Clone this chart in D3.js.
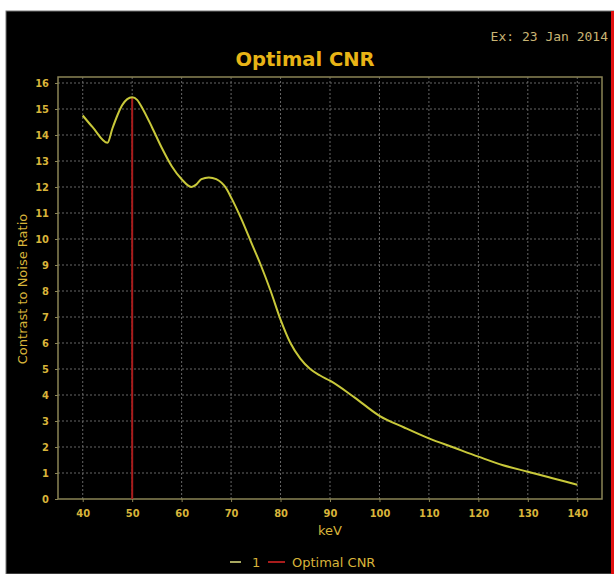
<!DOCTYPE html>
<html lang="en">
<head>
  <meta charset="UTF-8">
  <script src="https://d3js.org/d3.v7.min.js"></script>
  <title>Optimal CNR</title>
  <style>
    body { margin: 0; background: #fff; }
    svg { display: block; }
  </style>
</head>
<body>
  <svg id="svgWrapper" width="614" height="574"></svg>
  <script>
    // curve
    const kev = [40, 42, 45, 46, 47, 48, 49, 50, 51, 52, 54, 56, 58, 60, 62, 63, 64, 65.5, 67, 69, 70, 72, 74, 76, 78, 80, 82, 84, 86, 88, 90, 95, 100, 105, 110, 115, 120, 125, 130, 135, 140];
    const cnr = [14.75, 14.3, 13.7, 14.25, 14.75, 15.15, 15.38, 15.45, 15.35, 15.05, 14.3, 13.5, 12.8, 12.3, 12.0, 12.1, 12.3, 12.37, 12.3, 11.95, 11.6, 10.8, 9.9, 9.0, 8.0, 6.9, 6.0, 5.4, 5.0, 4.75, 4.55, 3.9, 3.2, 2.75, 2.33, 1.98, 1.63, 1.3, 1.05, 0.8, 0.55];
    const xTicks = [40, 50, 60, 70, 80, 90, 100, 110, 120, 130, 140];
    const yTicks = d3.range(0, 17);
    const optimalKev = 50;
    const optimalCnr = 15.45;

    const gold = '#d8b43a';
    const svgEl = d3.select('#svgWrapper');

    // black panel
    svgEl.append('rect')
      .attr('x', 6).attr('y', 11)
      .attr('width', 608).attr('height', 563)
      .attr('fill', '#000')
      .attr('stroke', '#777').attr('stroke-width', 1);
    svgEl.append('line')
      .attr('x1', 612.5).attr('x2', 612.5).attr('y1', 11).attr('y2', 574)
      .attr('stroke', '#e01010').attr('stroke-width', 3);

    const plotL = 58, plotR = 602, plotT = 77, plotB = 499;
    const x = d3.scaleLinear().domain([35, 145]).range([plotL, plotR]);
    const y = d3.scaleLinear().domain([0, 16]).range([plotB, 83]);

    // grid
    svgEl.append('g').selectAll('line')
      .data(xTicks).enter().append('line')
      .attr('x1', d => x(d)).attr('x2', d => x(d))
      .attr('y1', plotT).attr('y2', plotB)
      .attr('stroke', '#666').attr('stroke-dasharray', '2,2');
    svgEl.append('g').selectAll('line')
      .data(yTicks.slice(1)).enter().append('line')
      .attr('x1', plotL).attr('x2', plotR)
      .attr('y1', d => y(d)).attr('y2', d => y(d))
      .attr('stroke', '#666').attr('stroke-dasharray', '2,2');

    // axes
    const xAxis = svgEl.append('g')
      .attr('transform', `translate(0,${plotB})`)
      .call(d3.axisBottom(x).tickValues(xTicks).tickSize(3).tickPadding(7));
    const yAxis = svgEl.append('g')
      .attr('transform', `translate(${plotL},0)`)
      .call(d3.axisLeft(y).tickValues(yTicks).tickSize(3).tickPadding(6));
    [xAxis, yAxis].forEach(ax => {
      ax.select('.domain').remove();
      ax.selectAll('line').attr('stroke', '#8a8455');
      ax.selectAll('text')
        .attr('fill', gold)
        .style('font-family', 'DejaVu Sans Condensed, DejaVu Sans')
        .style('font-size', '11px')
        .style('font-weight', 'bold');
    });

    // frame
    svgEl.append('rect')
      .attr('x', plotL).attr('y', plotT)
      .attr('width', plotR - plotL).attr('height', plotB - plotT)
      .attr('fill', 'none')
      .attr('stroke', '#8a8455').attr('stroke-width', 1.5);

    // optimal line
    svgEl.append('line')
      .attr('x1', x(optimalKev)).attr('x2', x(optimalKev))
      .attr('y1', y(0)).attr('y2', y(optimalCnr))
      .attr('stroke', '#a81c1c').attr('stroke-width', 2);

    // curve
    const line = d3.line()
      .x((d, i) => x(kev[i]))
      .y(d => y(d))
      .curve(d3.curveMonotoneX);
    svgEl.append('path')
      .datum(cnr)
      .attr('d', line)
      .attr('fill', 'none')
      .attr('stroke', '#c8c83a')
      .attr('stroke-width', 2);

    // texts
    svgEl.append('text')
      .attr('x', 305).attr('y', 66)
      .attr('text-anchor', 'middle')
      .attr('fill', '#e8b416')
      .style('font-family', 'DejaVu Sans')
      .style('font-weight', 'bold')
      .style('font-size', '19.5px')
      .text('Optimal CNR');
    svgEl.append('text')
      .attr('x', 608).attr('y', 41)
      .attr('text-anchor', 'end')
      .attr('fill', '#c8b474')
      .style('font-family', 'DejaVu Sans Mono')
      .style('font-size', '13px')
      .text('Ex: 23 Jan 2014');
    svgEl.append('text')
      .attr('x', x(90)).attr('y', 535)
      .attr('text-anchor', 'middle')
      .attr('fill', gold)
      .style('font-family', 'DejaVu Sans')
      .style('font-size', '13px')
      .text('keV');
    svgEl.append('text')
      .attr('transform', 'translate(27,289) rotate(-90)')
      .attr('text-anchor', 'middle')
      .attr('fill', gold)
      .style('font-family', 'DejaVu Sans')
      .style('font-size', '13px')
      .text('Contrast to Noise Ratio');

    // legend
    const legend = svgEl.append('g').attr('transform', 'translate(230,562)');
    legend.append('line').attr('x1', 0).attr('x2', 11).attr('y1', 0).attr('y2', 0)
      .attr('stroke', '#a8a860').attr('stroke-width', 2);
    legend.append('text').attr('x', 22).attr('y', 5).text('1');
    legend.append('line').attr('x1', 38).attr('x2', 55).attr('y1', 0).attr('y2', 0)
      .attr('stroke', '#a81c1c').attr('stroke-width', 2);
    legend.append('text').attr('x', 62).attr('y', 5).text('Optimal CNR');
    legend.selectAll('text')
      .attr('fill', gold)
      .style('font-family', 'DejaVu Sans')
      .style('font-size', '13px');
  </script>
</body>
</html>
